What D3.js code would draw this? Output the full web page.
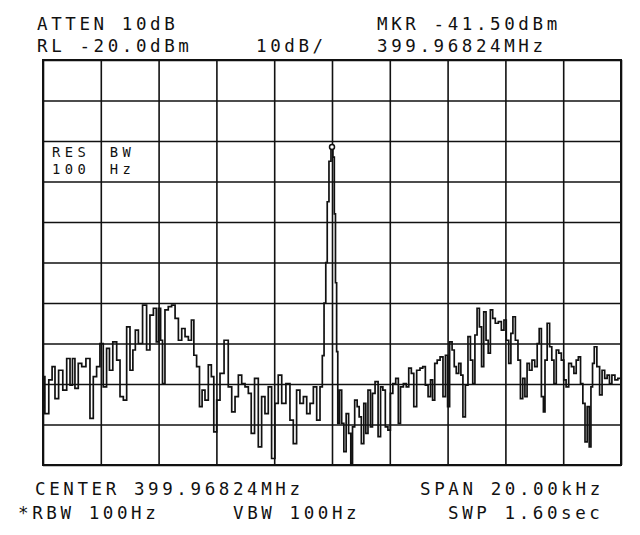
<!DOCTYPE html>
<html><head><meta charset="utf-8">
<script src="https://cdn.jsdelivr.net/npm/d3@7"></script>
<style>body{margin:0;background:#fff}text{font-family:"DejaVu Sans Mono",monospace;fill:#111}</style>
</head><body><svg id="c" width="640" height="535"></svg>
<script>
// Frequency offset from center (kHz) and trace level (dBm)
const freqOffsetKHz = [-10.0,-9.87,-9.73,-9.64,-9.53,-9.39,-9.24,-9.12,-9.01,-8.95,-8.84,-8.72,-8.60,-8.43,-8.32,-8.20,-8.09,-7.97,-7.86,-7.74,-7.66,-7.51,-7.39,-7.28,-7.16,-7.05,-6.93,-6.85,-6.76,-6.64,-6.47,-6.36,-6.24,-6.12,-6.04,-5.97,-5.89,-5.84,-5.72,-5.61,-5.49,-5.37,-5.26,-5.14,-5.03,-4.91,-4.82,-4.74,-4.63,-4.54,-4.45,-4.34,-4.22,-4.13,-4.05,-3.93,-3.82,-3.65,-3.53,-3.41,-3.30,-3.18,-3.07,-2.95,-2.84,-2.75,-2.61,-2.49,-2.38,-2.26,-2.15,-2.03,-1.92,-1.80,-1.68,-1.51,-1.40,-1.28,-1.17,-1.05,-0.93,-0.82,-0.70,-0.59,-0.47,-0.36,
-0.31,-0.24,-0.19,-0.14,-0.07,0.0,0.06,0.10,0.14,0.18,0.22,
0.30,0.37,0.45,0.53,0.62,0.68,0.74,0.83,0.91,0.97,1.06,1.14,1.20,1.29,1.37,1.43,1.55,1.64,1.72,1.80,1.89,1.98,2.06,2.15,2.26,2.33,2.41,2.53,2.61,2.70,2.79,2.87,2.99,3.10,3.18,3.28,3.37,3.45,3.51,3.60,3.68,3.80,3.88,3.97,4.03,4.11,4.20,4.26,4.34,4.43,4.49,4.57,4.66,4.75,4.83,4.91,4.98,5.06,5.14,5.21,5.29,5.37,5.44,5.52,5.60,5.70,5.81,5.91,5.99,6.07,6.16,6.22,6.30,6.39,6.48,6.56,6.64,6.71,6.79,6.87,6.97,7.06,7.14,7.20,7.29,7.34,7.40,7.49,7.57,7.64,7.72,7.80,7.89,7.98,8.06,8.14,8.24,8.33,8.41,8.49,8.56,8.64,8.72,8.79,8.87,8.93,8.99,9.04,9.11,9.22,9.30,9.39,9.48,9.56,9.64,9.73,9.85,9.93,10.0];
const levelDbm = [-98.2,-107.3,-99.0,-95.7,-103.6,-96.6,-101.5,-93.7,-100.3,-93.7,-101.1,-94.9,-95.7,-93.7,-108.5,-98.2,-95.7,-90.0,-100.7,-91.2,-96.6,-89.6,-94.1,-103.1,-104.0,-85.9,-96.6,-91.6,-86.7,-90.0,-80.5,-91.6,-83.0,-81.3,-89.6,-81.3,-89.2,-99.9,-81.7,-80.9,-80.5,-83.8,-89.2,-86.3,-88.3,-89.2,-84.2,-92.9,-95.7,-105.6,-101.5,-104.0,-95.3,-98.2,-111.8,-104.0,-97.4,-89.2,-100.7,-106.9,-103.1,-97.8,-99.9,-100.7,-102.3,-112.2,-98.6,-115.5,-103.1,-107.3,-100.7,-118.4,-104.8,-97.8,-104.8,-99.9,-108.9,-114.7,-101.5,-104.8,-103.1,-107.3,-104.8,-100.7,-108.9,-100.7,
-93,-80,-70,-55,-45,-41.5,-44,-58,-75,-92,-109.7,
-101.5,-109.7,-116.7,-107.3,-112.2,-119.6,-110.6,-104.0,-105.6,-108.1,-114.7,-104.8,-112.2,-101.5,-110.6,-102.3,-99.4,-113.0,-100.7,-101.5,-110.6,-111.4,-102.3,-99.9,-98.6,-109.7,-100.7,-99.9,-100.7,-96.1,-97.4,-105.6,-96.6,-96.1,-95.7,-100.3,-103.1,-99.0,-104.0,-94.9,-94.1,-93.3,-103.1,-92.9,-105.6,-89.6,-91.6,-95.7,-97.4,-94.9,-97.8,-108.1,-100.3,-88.3,-94.1,-99.9,-87.9,-81.3,-85.9,-95.7,-82.2,-89.2,-92.4,-81.7,-83.8,-85.0,-84.6,-86.7,-84.2,-89.2,-94.9,-87.5,-83.4,-89.2,-94.1,-103.6,-98.6,-103.1,-94.9,-96.6,-94.1,-95.7,-90.0,-86.3,-103.1,-106.9,-94.1,-85.0,-90.8,-94.1,-99.9,-91.6,-92.4,-94.1,-99.0,-100.7,-94.9,-95.7,-97.4,-94.1,-93.3,-99.9,-104.8,-114.3,-105.6,-115.5,-100.7,-94.9,-90.8,-95.7,-102.7,-96.6,-98.6,-97.8,-99.9,-97.8,-99.0,-98.6,-98.6];

const xGridKHz = [-10,-8,-6,-4,-2,0,2,4,6,8,10];
const yGridDbm = [-120,-110,-100,-90,-80,-70,-60,-50,-40,-30,-20];
const markerKHz = 0.0, markerDbm = -41.5;

const headerTexts = ["ATTEN 10dB","RL -20.0dBm","10dB/","MKR -41.50dBm","399.96824MHz"];
const footerTexts = ["CENTER 399.96824MHz","SPAN 20.00kHz","*RBW 100Hz","VBW 100Hz","SWP 1.60sec"];
const resTexts = ["RES","100","BW","Hz"];

const svg = d3.select("#c");
const L=43,R=621,T=60,B=465;
const x = d3.scaleLinear().domain([-10,10]).range([L,R]);
const y = d3.scaleLinear().domain([-120,-20]).range([B,T]);

// grid via axes
const gx = svg.append("g").attr("transform",`translate(0,${B})`)
  .call(d3.axisBottom(x).tickValues(xGridKHz).tickSize(-(B-T)).tickFormat(""));
const gy = svg.append("g").attr("transform",`translate(${L},0)`)
  .call(d3.axisLeft(y).tickValues(yGridDbm).tickSize(-(R-L)).tickFormat(""));
[gx,gy].forEach(g=>{g.select(".domain").remove();g.selectAll("line").attr("stroke","#111").attr("stroke-width",1.6);});
svg.append("rect").attr("x",L).attr("y",T).attr("width",R-L).attr("height",B-T)
  .attr("fill","none").attr("stroke","#111").attr("stroke-width",2);

// trace
const pts = freqOffsetKHz.map((f,i)=>[f,levelDbm[i]]);
svg.append("path").datum(pts)
  .attr("d", d3.line().x(d=>x(d[0])).y(d=>y(d[1])).curve(d3.curveStep))
  .attr("fill","none").attr("stroke","#111").attr("stroke-width",1.7).attr("stroke-linejoin","miter");

// marker
svg.append("circle").attr("cx",x(markerKHz)).attr("cy",y(markerDbm)).attr("r",2.5)
  .attr("fill","#fff").attr("stroke","#111").attr("stroke-width",1.5);

function txt(s,px,py,size,ls){
  svg.append("text").attr("x",px).attr("y",py).attr("font-size",size)
    .attr("letter-spacing",ls).text(s);
}
const FS=17.5, LS=3.6;
txt(headerTexts[0],37,30,FS,LS);
txt(headerTexts[1],37,52,FS,LS);
txt(headerTexts[2],256,52,FS,LS);
txt(headerTexts[3],377,30,FS,LS);
txt(headerTexts[4],377,52,FS,LS);

txt(footerTexts[0],35,495,FS,LS);
txt(footerTexts[1],420,495,FS,LS);
txt(footerTexts[2],18,519,FS,LS);
txt(footerTexts[3],233,519,FS,LS);
txt(footerTexts[4],448,519,FS,LS);

const cw = x(-8)-x(-10);
txt(resTexts[0],x(-10)+9,157,13.8,4.4);
txt(resTexts[1],x(-10)+9,174,13.8,4.4);
txt(resTexts[2],x(-10)+cw+9,157,13.8,4.4);
txt(resTexts[3],x(-10)+cw+9,174,13.8,4.4);
</script></body></html>
